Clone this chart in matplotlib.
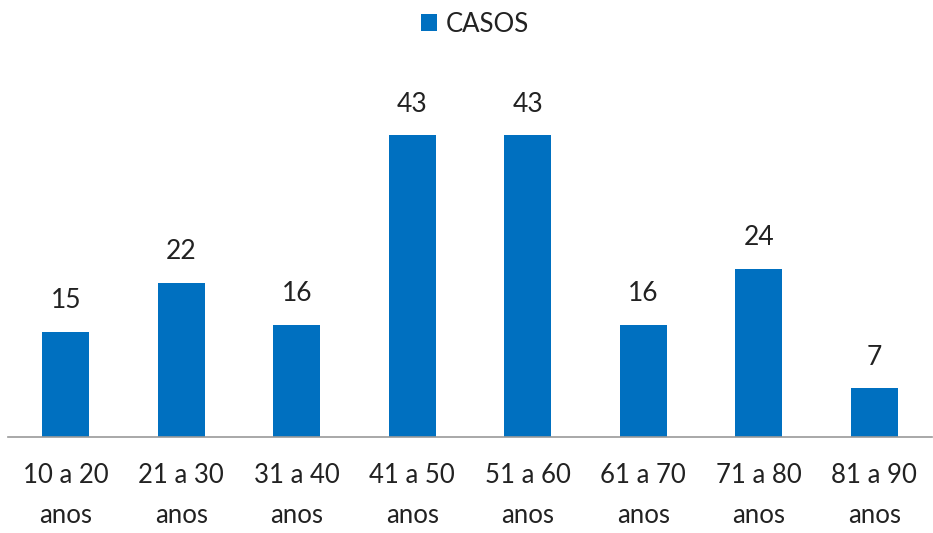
import matplotlib
matplotlib.use("Agg")
import matplotlib.pyplot as plt

categories = ["10 a 20\nanos", "21 a 30\nanos", "31 a 40\nanos", "41 a 50\nanos",
              "51 a 60\nanos", "61 a 70\nanos", "71 a 80\nanos", "81 a 90\nanos"]
casos = [15, 22, 16, 43, 43, 16, 24, 7]

plt.rcParams['font.family'] = ['Lato', 'DejaVu Sans']

fig = plt.figure(figsize=(9.33, 5.33), dpi=100)
ax = fig.add_axes([8/933, (533-437)/533, 924/933, 351/533])
x = range(len(categories))
bars = ax.bar(x, casos, width=0.41, color="#0070C0", label="CASOS")
for xi, v in zip(x, casos):
    ax.text(xi, v + 2.6, str(v), ha="center", va="bottom", fontsize=19, color="#222222")
ax.set_xlim(-0.5, len(categories) - 0.5)
ax.set_ylim(0, 50)
ax.set_xticks(list(x))
ax.set_xticklabels(categories, fontsize=18.5, color="#222222", linespacing=1.75)
ax.tick_params(axis="x", length=0, pad=19)
ax.set_yticks([])
for s in ["top", "right", "left"]:
    ax.spines[s].set_visible(False)
ax.spines["bottom"].set_color("#999999")
ax.spines["bottom"].set_linewidth(1.2)
fig.legend(handles=[bars], labels=["CASOS"], loc="center", bbox_to_anchor=(475/933, 1 - 24/533),
           frameon=False, fontsize=18.5, handlelength=0.6, handleheight=0.6, handletextpad=0.35,
           labelcolor="#222222")
fig.savefig("out.png", dpi=100)
